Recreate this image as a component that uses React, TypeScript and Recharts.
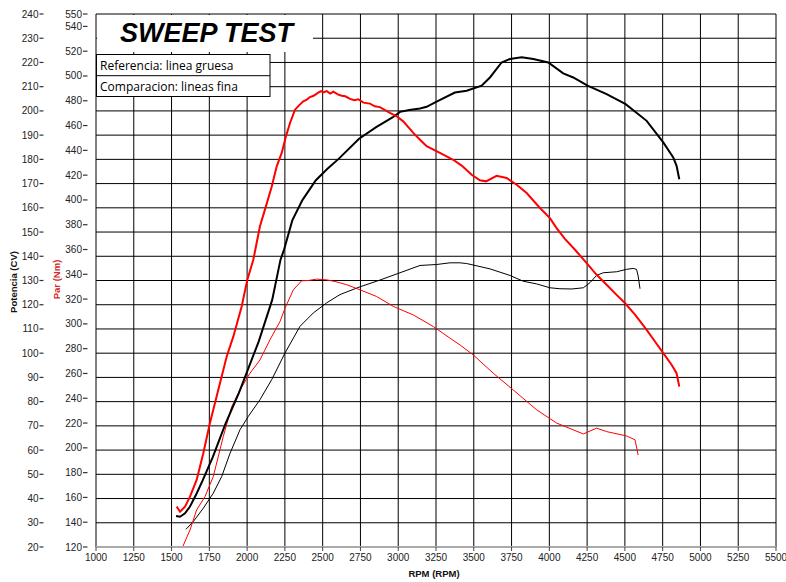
import React from 'react';
import { LineChart, Line, XAxis, YAxis, CartesianGrid } from 'recharts';

const rpmTicks = [1000, 1250, 1500, 1750, 2000, 2250, 2500, 2750, 3000, 3250, 3500, 3750, 4000, 4250, 4500, 4750, 5000, 5250, 5500];
const cvTicks = [20, 30, 40, 50, 60, 70, 80, 90, 100, 110, 120, 130, 140, 150, 160, 170, 180, 190, 200, 210, 220, 230, 240];
const nmTicks = [120, 140, 160, 180, 200, 220, 240, 260, 280, 300, 320, 340, 360, 380, 400, 420, 440, 460, 480, 500, 520, 540, 550];

// Reference (thick) power, CV
const refPowerRpm = [1530, 1556, 1589, 1622, 1666, 1706, 1772, 1856, 1945, 2000, 2077, 2166, 2221, 2243, 2299, 2366, 2455, 2530, 2609, 2739, 2854, 2962, 3012, 3073, 3144, 3188, 3254, 3375, 3453, 3552, 3607, 3684, 3739, 3817, 3894, 3993, 4092, 4158, 4253, 4379, 4505, 4644, 4754, 4820, 4842, 4860];
const refPowerCv = [32.8, 32.5, 33.9, 36.7, 42.1, 47.5, 57.0, 70.7, 83.5, 92.4, 104.9, 122.0, 138.6, 142.4, 154.8, 163.2, 171.4, 176.0, 180.4, 188.4, 193.3, 197.3, 199.6, 200.4, 201.0, 201.7, 203.8, 207.6, 208.3, 210.4, 213.8, 220.0, 221.4, 222.1, 221.4, 220.0, 215.5, 213.8, 210.4, 206.9, 202.8, 195.9, 187.0, 180.8, 177.3, 171.8];

// Reference (thick) torque, Nm
const refTorqueRpm = [1534, 1556, 1589, 1622, 1666, 1710, 1754, 1809, 1865, 1909, 1964, 2001, 2041, 2063, 2085, 2118, 2163, 2196, 2229, 2257, 2284, 2317, 2345, 2372, 2395, 2416, 2440, 2471, 2490, 2504, 2527, 2550, 2571, 2600, 2626, 2650, 2681, 2710, 2736, 2770, 2813, 2845, 2879, 2945, 2990, 3033, 3100, 3144, 3188, 3276, 3364, 3420, 3486, 3541, 3581, 3651, 3717, 3784, 3850, 3938, 4004, 4048, 4103, 4170, 4247, 4313, 4379, 4445, 4500, 4567, 4644, 4699, 4754, 4809, 4842, 4860];
const refTorqueNm = [152.6, 148.5, 152.6, 160.6, 174.1, 195.6, 220.0, 246.7, 273.7, 289.9, 314.1, 335.5, 351.7, 365.2, 378.7, 392.2, 410.9, 427.1, 437.9, 451.3, 462.1, 472.8, 476.5, 479.6, 481.0, 483.0, 484.0, 486.6, 487.8, 486.8, 487.8, 485.8, 487.4, 485.2, 484.1, 483.6, 481.5, 480.4, 481.2, 478.5, 477.7, 475.5, 474.9, 470.3, 467.5, 463.4, 454.1, 448.6, 443.3, 437.9, 432.4, 427.7, 420.3, 415.8, 415.0, 419.5, 417.7, 412.3, 405.6, 393.5, 385.3, 377.3, 368.5, 359.8, 349.0, 339.6, 331.6, 323.4, 316.8, 307.4, 295.1, 285.8, 276.4, 267.0, 260.2, 249.4];

// Comparison (thin) power, CV
const cmpPowerRpm = [1595, 1644, 1710, 1776, 1832, 1887, 1953, 2008, 2085, 2163, 2251, 2350, 2438, 2527, 2615, 2747, 2857, 3012, 3144, 3254, 3342, 3409, 3453, 3607, 3739, 3827, 3916, 4004, 4070, 4150, 4225, 4269, 4313, 4357, 4445, 4511, 4555, 4577, 4588, 4600];
const cmpPowerCv = [27.3, 30.5, 36.0, 42.2, 49.1, 58.7, 68.4, 73.9, 80.8, 89.1, 100.1, 111.1, 116.6, 120.8, 124.2, 127.4, 129.7, 133.2, 136.2, 136.6, 137.3, 137.3, 137.0, 134.8, 132.1, 129.7, 128.6, 127.0, 126.6, 126.5, 127.0, 129.1, 132.1, 133.2, 133.6, 134.6, 135.0, 134.6, 131.8, 126.6];

// Comparison (thin) torque, Nm
const cmpTorqueRpm = [1576, 1622, 1666, 1721, 1776, 1842, 1898, 1953, 2019, 2085, 2151, 2218, 2251, 2306, 2361, 2405, 2460, 2527, 2582, 2659, 2747, 2857, 2967, 3100, 3232, 3342, 3409, 3496, 3629, 3761, 3916, 4048, 4225, 4313, 4379, 4511, 4567, 4588];
const cmpTorqueNm = [120.8, 133.7, 149.9, 160.6, 176.8, 209.0, 233.2, 246.7, 260.2, 270.9, 287.1, 302.0, 312.7, 327.5, 334.8, 335.0, 336.1, 335.5, 334.2, 331.6, 327.5, 322.1, 314.1, 307.2, 297.9, 288.5, 283.0, 275.0, 260.2, 246.7, 230.7, 220.0, 211.2, 215.9, 213.1, 209.6, 206.5, 194.2];

const refPowerData = refPowerRpm.map((rpm, i) => ({ rpm, cv: refPowerCv[i] }));
const refTorqueData = refTorqueRpm.map((rpm, i) => ({ rpm, nm: refTorqueNm[i] }));
const cmpPowerData = cmpPowerRpm.map((rpm, i) => ({ rpm, cv: cmpPowerCv[i] }));
const cmpTorqueData = cmpTorqueRpm.map((rpm, i) => ({ rpm, nm: cmpTorqueNm[i] }));

const FONT = '"Liberation Sans", Arial, sans-serif';

const CvTick = (props: any) => {
  const { y, payload } = props;
  return (
    <g>
      <text x={38.5} y={y} dy="0.35em" textAnchor="end" fontSize={10} fill="#222" fontFamily={FONT}>{payload.value}</text>
      <line x1={39.5} x2={43.5} y1={y} y2={y} stroke="#333" strokeWidth={1.2} />
    </g>
  );
};

const NmTick = (props: any) => {
  const { y, payload } = props;
  return (
    <g>
      <text x={82} y={y} dy="0.35em" textAnchor="end" fontSize={10} fill="#222" fontFamily={FONT}>{payload.value}</text>
      <line x1={83} x2={87.5} y1={y} y2={y} stroke="#333" strokeWidth={1.2} />
    </g>
  );
};

export default function App() {
  return (
    <div style={{ position: 'absolute', left: 0, top: 0, width: 786, height: 582, background: '#fff' }}>
      <LineChart width={786} height={582} data={refPowerData} margin={{ top: 14, right: 10, bottom: 0, left: 0 }}>
        <CartesianGrid yAxisId="cv" stroke="#000" strokeWidth={1} />
        <XAxis
          dataKey="rpm"
          type="number"
          domain={[1000, 5500]}
          ticks={rpmTicks}
          interval={0}
          allowDataOverflow
          height={35}
          tickSize={4}
          tickMargin={3}
          axisLine={{ stroke: '#aaa', strokeWidth: 2 }}
          tickLine={{ stroke: '#444' }}
          tick={{ fontSize: 10, fill: '#222', fontFamily: FONT }}
        />
        <YAxis yAxisId="cv" type="number" domain={[20, 240]} ticks={cvTicks} interval={0} width={48} axisLine={false} tickLine={false} tick={<CvTick />} allowDataOverflow />
        <YAxis yAxisId="nm" type="number" domain={[120, 550]} ticks={nmTicks} interval={0} width={48} axisLine={false} tickLine={false} tick={<NmTick />} allowDataOverflow />
        <Line data={cmpPowerData} dataKey="cv" yAxisId="cv" stroke="#000" strokeWidth={1} dot={false} isAnimationActive={false} type="linear" />
        <Line data={cmpTorqueData} dataKey="nm" yAxisId="nm" stroke="#ff0000" strokeWidth={1} dot={false} isAnimationActive={false} type="linear" />
        <Line data={refPowerData} dataKey="cv" yAxisId="cv" stroke="#000" strokeWidth={2} dot={false} isAnimationActive={false} type="linear" />
        <Line data={refTorqueData} dataKey="nm" yAxisId="nm" stroke="#ff0000" strokeWidth={2} dot={false} isAnimationActive={false} type="linear" />
      </LineChart>
      <svg width={786} height={582} style={{ position: 'absolute', left: 0, top: 0, pointerEvents: 'none' }}>
        <rect x={97} y={15} width={216} height={37} fill="#fff" />
        <text x={120} y={41.7} fontSize={27} fontWeight="bold" fontStyle="italic" fontFamily={FONT} fill="#000">SWEEP TEST</text>
        <rect x={96.5} y={54.5} width={173.5} height={42} fill="#fff" stroke="#000" strokeWidth={1} />
        <line x1={96.5} x2={270} y1={75.7} y2={75.7} stroke="#000" strokeWidth={1} />
        <text x={100} y={70} fontSize={12} fontFamily='"Open Sans", sans-serif' fill="#000">Referencia: linea gruesa</text>
        <text x={100} y={91} fontSize={12} fontFamily='"Open Sans", sans-serif' fill="#000">Comparacion: lineas fina</text>
        <text x={0} y={0} transform="translate(16.5,282) rotate(-90)" textAnchor="middle" fontSize={9.5} fontWeight="bold" fontFamily={FONT} fill="#111">Potencia (CV)</text>
        <text x={0} y={0} transform="translate(60,279.5) rotate(-90)" textAnchor="middle" fontSize={9.5} fontWeight="bold" fontFamily={FONT} fill="#d42a2a">Par (Nm)</text>
        <text x={434} y={576.5} textAnchor="middle" fontSize={9.5} fontWeight="bold" fontFamily={FONT} fill="#111">RPM (RPM)</text>
      </svg>
    </div>
  );
}
